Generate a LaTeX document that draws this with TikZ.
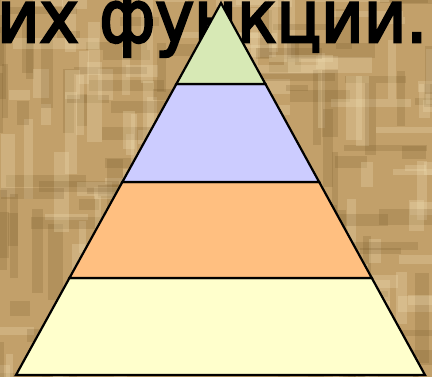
\documentclass[tikz,border=0pt]{standalone}
\usepackage{fontspec}
\newfontfamily\titlefont[FakeBold=3.5]{DejaVu Sans}
\usetikzlibrary{calc}
\definecolor{bgbase}{HTML}{C2A06A}
\definecolor{bglight}{HTML}{F0DDB2}
\definecolor{bgdark}{HTML}{6E5020}
\definecolor{lvlA}{HTML}{D7E9B5}
\definecolor{lvlB}{HTML}{CCCCFF}
\definecolor{lvlC}{HTML}{FFBF80}
\definecolor{lvlD}{HTML}{FFFFCC}
\tikzset{
  layer/.style={draw=black, line width=2.2pt, line join=miter},
  lightbar/.style={fill=bglight, opacity=0.28},
  darkbar/.style={fill=bgdark, opacity=0.18},
  titletext/.style={anchor=base west, inner sep=0pt, font=\titlefont\fontsize{72}{80}\selectfont, xscale=0.91},
}
\begin{document}
\begin{tikzpicture}[x=1pt,y=-1pt]
\useasboundingbox (0,0) rectangle (432,377);
\begin{scope}
\clip (0,0) rectangle (432,377);
\fill[bgbase] (-5,-5) rectangle (437,382);
\pgfmathsetseed{11}
\foreach \i in {1,...,70}{
  \pgfmathsetmacro\px{rnd*440-10}
  \pgfmathsetmacro\py{rnd*385-10}
  \pgfmathsetmacro\pl{20+rnd*70}
  \pgfmathsetmacro\pw{6+rnd*10}
  \fill[lightbar] (\px,\py) rectangle ++(\pl,\pw);
  \pgfmathsetmacro\qx{rnd*440-10}
  \pgfmathsetmacro\qy{rnd*385-10}
  \pgfmathsetmacro\ql{20+rnd*70}
  \pgfmathsetmacro\qw{6+rnd*10}
  \fill[darkbar] (\qx,\qy) rectangle ++(\qw,\ql);
  \pgfmathsetmacro\rx{rnd*440-10}
  \pgfmathsetmacro\ry{rnd*385-10}
  \fill[lightbar] (\rx,\ry) rectangle ++(\qw,\pl);
  \pgfmathsetmacro\sx{rnd*440-10}
  \pgfmathsetmacro\sy{rnd*385-10}
  \fill[darkbar] (\sx,\sy) rectangle ++(\ql,\pw);
}
\node[titletext] (title) at (-3,42) {их функции.};
\end{scope}
\coordinate (apex) at (221,3);
\coordinate (bl) at (16,375);
\coordinate (br) at (425,375);
\coordinate (l1) at ($(apex)!0.2177!(bl)$);
\coordinate (r1) at ($(apex)!0.2177!(br)$);
\coordinate (l2) at ($(apex)!0.4812!(bl)$);
\coordinate (r2) at ($(apex)!0.4812!(br)$);
\coordinate (l3) at ($(apex)!0.7392!(bl)$);
\coordinate (r3) at ($(apex)!0.7392!(br)$);
\filldraw[layer, fill=lvlD] (l3) -- (r3) -- (br) -- (bl) -- cycle;
\filldraw[layer, fill=lvlC] (l2) -- (r2) -- (r3) -- (l3) -- cycle;
\filldraw[layer, fill=lvlB] (l1) -- (r1) -- (r2) -- (l2) -- cycle;
\filldraw[layer, fill=lvlA] (apex) -- (r1) -- (l1) -- cycle;
\end{tikzpicture}
\end{document}
